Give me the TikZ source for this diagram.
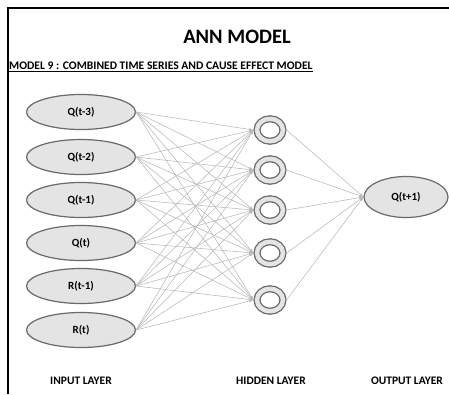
\documentclass[tikz,border=0pt]{standalone}
\usepackage{fontspec}
\setmainfont{Carlito}
\usepackage{tikz}
\usetikzlibrary{arrows.meta,shapes.geometric}

\definecolor{ringgray}{HTML}{6A6A6A}
\definecolor{fillgray}{HTML}{E4E4E4}
\definecolor{linkgray}{HTML}{BDBDBD}

\tikzset{
  inbox/.style={ellipse, draw=ringgray, line width=1.2pt, fill=fillgray,
    minimum width=109pt, minimum height=35pt, inner sep=0pt,
    font=\bfseries\fontsize{11}{13}\selectfont},
  outbox/.style={inbox, minimum width=84pt, minimum height=41pt},
  hidring/.style={ellipse, draw=ringgray, line width=1.3pt, double=fillgray,
    double distance=4.5pt, fill=white, minimum width=26pt, minimum height=22.5pt,
    inner sep=0pt, outer sep=3.6pt},
  link/.style={draw=linkgray, line width=0.6pt,
    -{Latex[length=4pt,width=3pt,fill=gray!80]}},
  layer/.style={font=\bfseries\fontsize{11.5}{13}\selectfont}
}

\begin{document}
\begin{tikzpicture}[x=1pt,y=-1pt]

% page size
\useasboundingbox (0,0) rectangle (449,394);

% frame
\draw[line width=2.5pt] (449,8) -- (8,8) -- (8,394);

% titles
\node (title) at (237,37) {\bfseries\fontsize{20.5}{24}\selectfont ANN MODEL};
\node[anchor=west, inner sep=0pt] (subtitle) at (9,67)
  {\bfseries\fontsize{11.6}{13}\selectfont \underline{MODEL 9 : COMBINED TIME SERIES AND CAUSE EFFECT MODEL}};

% input layer
\node[inbox] (in1) at (81,112) {Q(t-3)};
\node[inbox] (in2) at (81,157) {Q(t-2)};
\node[inbox] (in3) at (81,200) {Q(t-1)};
\node[inbox] (in4) at (81,243) {Q(t)};
\node[inbox] (in5) at (81,286) {R(t-1)};
\node[inbox] (in6) at (81,330) {R(t)};

% hidden layer
\node[hidring] (h1) at (270,130) {};
\node[hidring] (h2) at (270,170) {};
\node[hidring] (h3) at (270,210) {};
\node[hidring] (h4) at (270,253) {};
\node[hidring] (h5) at (270,300) {};

% output layer
\node[outbox] (out) at (406,197) {Q(t+1)};

% links input -> hidden
\foreach \i in {1,...,6}
  \foreach \j in {1,...,5}
    \draw[link] (in\i.east) -- (h\j.west);

% links hidden -> output
\foreach \j in {1,...,5}
  \draw[link] (h\j.east) -- (out.west);

% layer names
\node[layer] (inlabel) at (81,381) {INPUT LAYER};
\node[layer] (hidlabel) at (271,381) {HIDDEN LAYER};
\node[layer] (outlabel) at (407,381) {OUTPUT LAYER};

\end{tikzpicture}
\end{document}
